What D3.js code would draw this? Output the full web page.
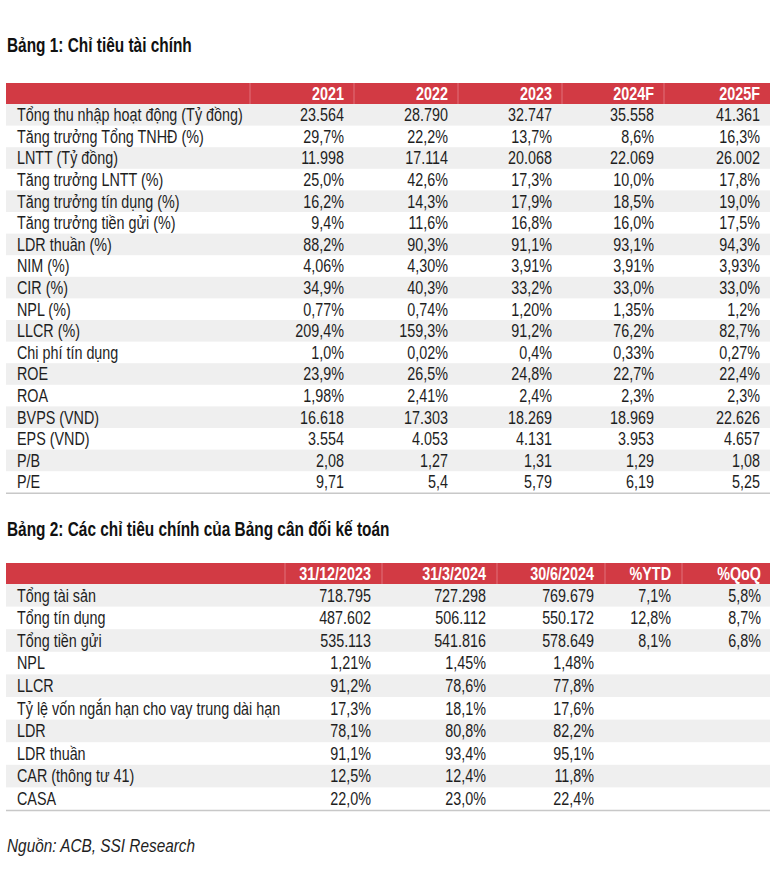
<!DOCTYPE html>
<html>
<head>
<meta charset="utf-8">
<script src="https://cdn.jsdelivr.net/npm/d3@7"></script>
<style>
  body { margin: 0; background: #fff; }
  text { font-family: "Liberation Sans", Arial, sans-serif; }
</style>
</head>
<body>
<script>

// ---- Bảng 1 data
const t1Title = 'Bảng 1: Chỉ tiêu tài chính'
const t1Cols = ['2021', '2022', '2023', '2024F', '2025F']
const t1Labels = [
	'Tổng thu nhập hoạt động (Tỷ đồng)', 'Tăng trưởng Tổng TNHĐ (%)', 'LNTT (Tỷ đồng)',
	'Tăng trưởng LNTT (%)', 'Tăng trưởng tín dụng (%)', 'Tăng trưởng tiền gửi (%)',
	'LDR thuần (%)', 'NIM (%)', 'CIR (%)', 'NPL (%)', 'LLCR (%)', 'Chi phí tín dụng',
	'ROE', 'ROA', 'BVPS (VND)', 'EPS (VND)', 'P/B', 'P/E'
]
const t1Values = [
	['23.564', '28.790', '32.747', '35.558', '41.361'],
	['29,7%', '22,2%', '13,7%', '8,6%', '16,3%'],
	['11.998', '17.114', '20.068', '22.069', '26.002'],
	['25,0%', '42,6%', '17,3%', '10,0%', '17,8%'],
	['16,2%', '14,3%', '17,9%', '18,5%', '19,0%'],
	['9,4%', '11,6%', '16,8%', '16,0%', '17,5%'],
	['88,2%', '90,3%', '91,1%', '93,1%', '94,3%'],
	['4,06%', '4,30%', '3,91%', '3,91%', '3,93%'],
	['34,9%', '40,3%', '33,2%', '33,0%', '33,0%'],
	['0,77%', '0,74%', '1,20%', '1,35%', '1,2%'],
	['209,4%', '159,3%', '91,2%', '76,2%', '82,7%'],
	['1,0%', '0,02%', '0,4%', '0,33%', '0,27%'],
	['23,9%', '26,5%', '24,8%', '22,7%', '22,4%'],
	['1,98%', '2,41%', '2,4%', '2,3%', '2,3%'],
	['16.618', '17.303', '18.269', '18.969', '22.626'],
	['3.554', '4.053', '4.131', '3.953', '4.657'],
	['2,08', '1,27', '1,31', '1,29', '1,08'],
	['9,71', '5,4', '5,79', '6,19', '5,25']
]

// ---- Bảng 2 data
const t2Title = 'Bảng 2: Các chỉ tiêu chính của Bảng cân đối kế toán'
const t2Cols = ['31/12/2023', '31/3/2024', '30/6/2024', '%YTD', '%QoQ']
const t2Labels = [
	'Tổng tài sản', 'Tổng tín dụng', 'Tổng tiền gửi', 'NPL', 'LLCR',
	'Tỷ lệ vốn ngắn hạn cho vay trung dài hạn', 'LDR', 'LDR thuần', 'CAR (thông tư 41)', 'CASA'
]
const t2Values = [
	['718.795', '727.298', '769.679', '7,1%', '5,8%'],
	['487.602', '506.112', '550.172', '12,8%', '8,7%'],
	['535.113', '541.816', '578.649', '8,1%', '6,8%'],
	['1,21%', '1,45%', '1,48%', '', ''],
	['91,2%', '78,6%', '77,8%', '', ''],
	['17,3%', '18,1%', '17,6%', '', ''],
	['78,1%', '80,8%', '82,2%', '', ''],
	['91,1%', '93,4%', '95,1%', '', ''],
	['12,5%', '12,4%', '11,8%', '', ''],
	['22,0%', '23,0%', '22,4%', '', '']
]

const sourceNote = 'Nguồn: ACB, SSI Research'

const W = 784, H = 879
const red = '#d23a44'
const stripe = '#efefef'
const ink = '#1e1e1e'
const fs = 17.5
const narrow = 0.82   // squeeze Liberation Sans to look like a narrow face

const svg = d3.select('body').append('svg')
	.attr('width', W)
	.attr('height', H)

svg.append('rect').attr('width', W).attr('height', H).attr('fill', '#fff')

// place text at (x,y) with horizontal squeeze
function at(x, y, s) {
	return 'translate(' + x + ',' + y + ') scale(' + (s || narrow) + ',1)'
}

function drawTable(opt) {
	const g = svg.append('g')

	g.append('text')
		.attr('transform', at(opt.left + 1, opt.titleY, 0.79))
		.attr('font-weight', 'bold')
		.attr('font-size', 19.5)
		.attr('fill', '#111')
		.text(opt.title)

	// column edges (left / right of each value column)
	const colX = d3.scaleOrdinal().domain(opt.cols).range(opt.edges.slice(0, -1))
	const colR = d3.scaleOrdinal().domain(opt.cols).range(opt.edges.slice(1))

	const y = d3.scaleBand()
		.domain(d3.range(opt.labels.length))
		.range([opt.headTop + opt.headH, opt.headTop + opt.headH + opt.rowH * opt.labels.length])

	// header band
	g.append('rect')
		.attr('x', opt.left).attr('y', opt.headTop)
		.attr('width', opt.right - opt.left).attr('height', opt.headH)
		.attr('fill', red)

	g.selectAll('.sep')
		.data(opt.cols)
		.enter().append('line')
		.attr('x1', d => colX(d)).attr('x2', d => colX(d))
		.attr('y1', opt.headTop).attr('y2', opt.headTop + opt.headH)
		.attr('stroke', '#e0707a').attr('stroke-width', 1)

	g.selectAll('.hd')
		.data(opt.cols)
		.enter().append('text')
		.attr('transform', d => at(colR(d) - opt.pad, opt.headTop + opt.headH / 2))
		.attr('dy', '0.36em')
		.attr('text-anchor', 'end')
		.attr('font-weight', 'bold')
		.attr('font-size', fs)
		.attr('fill', '#fff')
		.text(d => d)

	// stripes on every other row
	g.selectAll('.stripe')
		.data(opt.labels.map((d, i) => i).filter(i => i % 2 === 0))
		.enter().append('rect')
		.attr('x', opt.left).attr('y', i => y(i))
		.attr('width', opt.right - opt.left).attr('height', y.bandwidth())
		.attr('fill', stripe)

	g.selectAll('.lbl')
		.data(opt.labels)
		.enter().append('text')
		.attr('transform', (d, i) => at(opt.left + 11, y(i) + y.bandwidth() / 2))
		.attr('dy', '0.36em')
		.attr('font-size', fs)
		.attr('fill', ink)
		.text(d => d)

	const rows = g.selectAll('.row')
		.data(opt.values)
		.enter().append('g')

	rows.selectAll('text')
		.data((d, i) => d.map((v, j) => ({ col: opt.cols[j], v: v, i: i })))
		.enter().append('text')
		.attr('transform', d => at(colR(d.col) - opt.pad, y(d.i) + y.bandwidth() / 2))
		.attr('dy', '0.36em')
		.attr('text-anchor', 'end')
		.attr('font-size', fs)
		.attr('fill', ink)
		.text(d => d.v)

	const bottom = y.range()[1]
	g.append('line')
		.attr('x1', opt.left).attr('x2', opt.right)
		.attr('y1', bottom + 0.5).attr('y2', bottom + 0.5)
		.attr('stroke', '#c8c8c8').attr('stroke-width', 1.5)
}

drawTable({
	title: t1Title, cols: t1Cols, labels: t1Labels, values: t1Values,
	left: 6, right: 770, titleY: 52,
	edges: [250, 354, 458, 562, 664, 770],
	headTop: 83, headH: 21, rowH: 21.6, pad: 10
})

drawTable({
	title: t2Title, cols: t2Cols, labels: t2Labels, values: t2Values,
	left: 6, right: 770, titleY: 536,
	edges: [285, 382, 497, 605, 682, 772],
	headTop: 563, headH: 21, rowH: 22.6, pad: 11
})

svg.append('text')
	.attr('transform', at(7, 852, 0.83))
	.attr('font-style', 'italic')
	.attr('font-size', 18.5)
	.attr('fill', ink)
	.text(sourceNote)

</script>
</body>
</html>
